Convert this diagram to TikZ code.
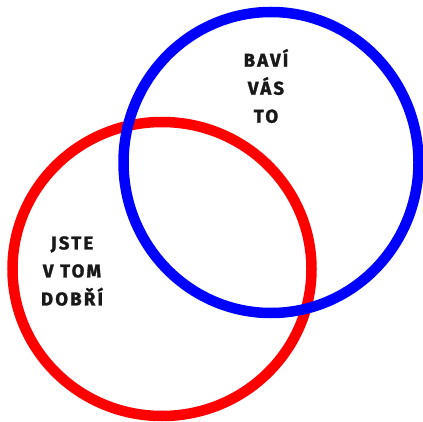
\documentclass[tikz,border=0pt]{standalone}
\usepackage{fontspec}
\setmainfont{Fira Sans}
\newfontfamily\handfont[LetterSpace=12,FakeBold=1.5]{Fira Sans Bold}
\begin{document}
\begin{tikzpicture}[x=1pt,y=-1pt,
  ring/.style={line width=10.5pt},
  lbl/.style={font=\handfont\fontsize{18.5}{28}\selectfont, text=black!90, align=center, inner sep=0pt}]
\useasboundingbox (0,0) rectangle (423,422);
\fill[white] (0,0) rectangle (423,422);
% red ring
\draw[ring, red] (162,269) ellipse [x radius=149.5, y radius=147];
% blue ring
\draw[ring, blue] (271,162.5) ellipse [x radius=147.5, y radius=150.5];
\node[lbl] (good) at (72,271) {JSTE\\V TOM\\DOBŘÍ};
\node[lbl] (fun) at (266,86) {BAVÍ\\VÁS\\TO};
\end{tikzpicture}
\end{document}
